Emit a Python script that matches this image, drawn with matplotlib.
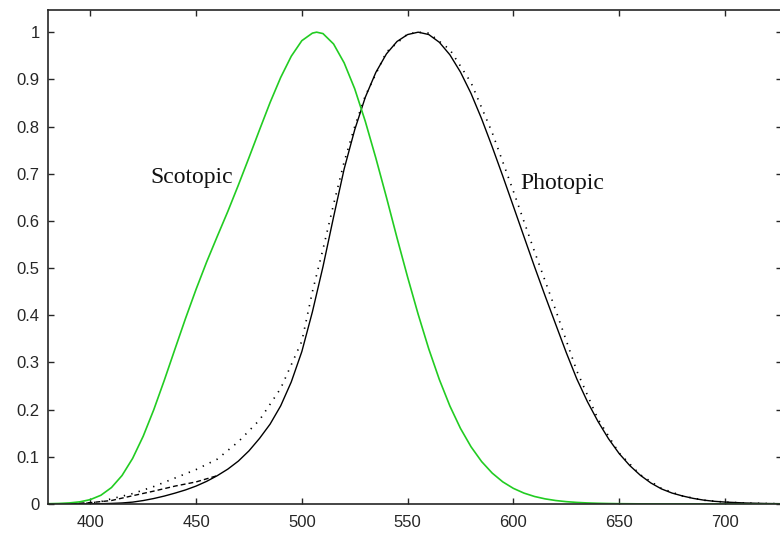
import matplotlib
matplotlib.use("Agg")
import matplotlib.pyplot as plt

# ---- data ----
# CIE 1951 scotopic V'(lambda)
scot_wl = [380, 385, 390, 395, 400, 405, 410, 415, 420, 425, 430, 435, 440, 445, 450,
           455, 460, 465, 470, 475, 480, 485, 490, 495, 500, 505, 507, 510, 515, 520,
           525, 530, 535, 540, 545, 550, 555, 560, 565, 570, 575, 580, 585, 590, 595,
           600, 605, 610, 615, 620, 625, 630, 635, 640, 645, 650, 660, 670, 680, 690,
           700, 710, 720, 730]
scot_v = [0.000589, 0.001108, 0.002209, 0.00453, 0.00929, 0.01852, 0.03484, 0.0604,
          0.0966, 0.1436, 0.1998, 0.2625, 0.3281, 0.3931, 0.455, 0.513, 0.567, 0.620,
          0.676, 0.734, 0.793, 0.851, 0.904, 0.949, 0.982, 0.998, 1.000, 0.997, 0.975,
          0.935, 0.880, 0.811, 0.733, 0.650, 0.564, 0.481, 0.402, 0.3288, 0.2639,
          0.2076, 0.1602, 0.1212, 0.0899, 0.0655, 0.0469, 0.03315, 0.02312, 0.01593,
          0.01088, 0.00737, 0.00497, 0.003335, 0.002235, 0.001497, 0.001005, 0.000677,
          0.000313, 0.000148, 0.0000715, 0.0000353, 0.0000178, 0.0000091, 0.0000048,
          0.0000025]

# CIE 1931 photopic V(lambda) (solid)
phot_wl = [380, 385, 390, 395, 400, 405, 410, 415, 420, 425, 430, 435, 440, 445, 450,
           455, 460, 465, 470, 475, 480, 485, 490, 495, 500, 505, 510, 515, 520, 525,
           530, 535, 540, 545, 550, 555, 560, 565, 570, 575, 580, 585, 590, 595, 600,
           605, 610, 615, 620, 625, 630, 635, 640, 645, 650, 655, 660, 665, 670, 675,
           680, 685, 690, 695, 700, 710, 720, 730]
phot_v = [0.000039, 0.000064, 0.00012, 0.000217, 0.000396, 0.00064, 0.00121, 0.00218,
          0.004, 0.0073, 0.0116, 0.01684, 0.023, 0.0298, 0.038, 0.048, 0.060, 0.0739,
          0.09098, 0.1126, 0.13902, 0.1693, 0.20802, 0.2586, 0.323, 0.4073, 0.503,
          0.6082, 0.710, 0.7932, 0.862, 0.91485, 0.954, 0.9803, 0.99495, 1.000, 0.995,
          0.9786, 0.952, 0.9154, 0.870, 0.8163, 0.757, 0.6949, 0.631, 0.5668, 0.503,
          0.4412, 0.381, 0.321, 0.265, 0.217, 0.175, 0.1382, 0.107, 0.0816, 0.061,
          0.04458, 0.032, 0.0232, 0.017, 0.01192, 0.00821, 0.005723, 0.004102,
          0.002091, 0.001047, 0.00052]

# modified photopic curve, short-wavelength part (dashed)
judd_wl = [380, 390, 400, 410, 420, 430, 440, 450, 460]
judd_v = [0.0002, 0.0008, 0.0028, 0.0074, 0.0175, 0.0273, 0.0379, 0.0468, 0.060]

# alternative photopic curve (dotted)
alt_wl = [380, 390, 400, 405, 410, 420, 430, 440, 450, 460, 470, 480, 490, 500, 505,
          510, 515, 520, 525, 530, 540, 550, 555, 560, 570, 580, 590, 600, 610, 620,
          630, 640, 650, 660, 670, 680, 690, 700, 710, 720, 730]
alt_v = [0.0, 0.0005, 0.002, 0.005, 0.011, 0.022, 0.037, 0.055, 0.073, 0.095, 0.132,
         0.178, 0.245, 0.345, 0.45, 0.54, 0.635, 0.725, 0.80, 0.865, 0.958, 0.996,
         1.0, 0.998, 0.963, 0.893, 0.787, 0.663, 0.535, 0.411, 0.282, 0.180, 0.108,
         0.062, 0.033, 0.017, 0.008, 0.004, 0.002, 0.001, 0.0005]

x_ticks = [400, 450, 500, 550, 600, 650, 700]
y_ticks = [0, 0.1, 0.2, 0.3, 0.4, 0.5, 0.6, 0.7, 0.8, 0.9, 1.0]
y_tick_labels = ["0", "0.1", "0.2", "0.3", "0.4", "0.5", "0.6", "0.7", "0.8", "0.9", "1"]

# ---- figure ----
fig = plt.figure(figsize=(7.8, 5.35), dpi=100)
ax = fig.add_axes([48 / 780, 31 / 535, 734 / 780, 494 / 535])

ax.plot(phot_wl, phot_v, color="black", lw=1.0, solid_capstyle="butt")
ax.plot(judd_wl, judd_v, color="black", lw=1.0, ls=(0, (3.5, 2.2)))
ax.plot(alt_wl, alt_v, color="black", lw=1.2, ls=(0, (0.8, 3.8)))
ax.plot(scot_wl, scot_v, color="#22cc22", lw=1.2)

ax.set_xlim(380, 727)
ax.set_ylim(0, 1.047)
ax.set_xticks(x_ticks)
ax.set_xticklabels([str(t) for t in x_ticks])
ax.set_yticks(y_ticks)
ax.set_yticklabels(y_tick_labels)

for s in ax.spines.values():
    s.set_linewidth(1.2)
    s.set_color("#262626")

ax.tick_params(direction="in", length=4, width=1.0, color="#262626",
               top=True, right=True, labelsize=12, labelcolor="#262626")
ax.tick_params(axis="y", pad=6)
ax.tick_params(axis="x", pad=8)
for lab in ax.get_xticklabels() + ax.get_yticklabels():
    lab.set_fontfamily("Liberation Sans")

ax.text(428.5, 0.693, "Scotopic", fontsize=17, family="Liberation Serif",
        va="center", ha="left", color="#111111")
ax.text(603.5, 0.68, "Photopic", fontsize=17, family="Liberation Serif",
        va="center", ha="left", color="#111111")

fig.savefig("out.png", dpi=100)
